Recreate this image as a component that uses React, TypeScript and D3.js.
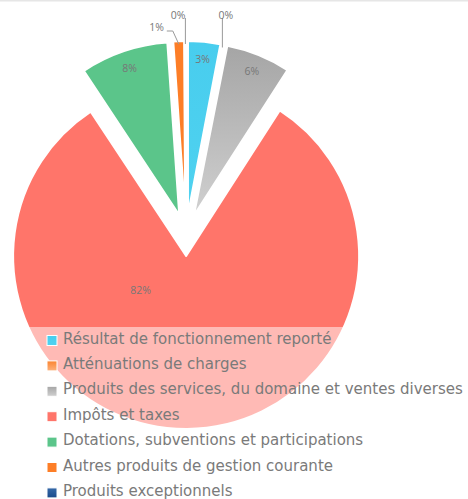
import React from "react";
import * as d3 from "d3";

const categories = [
  "Résultat de fonctionnement reporté",
  "Atténuations de charges",
  "Produits des services, du domaine et ventes diverses",
  "Impôts et taxes",
  "Dotations, subventions et participations",
  "Autres produits de gestion courante",
  "Produits exceptionnels",
];
const values = [3.0, 0.1, 6.0, 81.6, 8.2, 1.0, 0.1];
const colorTop = ["#48cdee", "#fb842f", "#a5a5a5", "#ff756a", "#5bc58a", "#fd7e27", "#3569a8"];
const colorBottom = ["#4fd2f0", "#fdb27c", "#d0d0d0", "#ff756a", "#5bc58a", "#fd7e27", "#1b4a8a"];

const W = 468;
const H = 499;
const CX = 186;
const CY = 235;
const R = 173;
const SLICE_OFFSET = 21;

export default function App() {
  const total = d3.sum(values);
  const pie = d3.pie<number>().value((d) => d).sort(null);
  const arcs = pie(values);
  const arc = d3.arc<d3.PieArcDatum<number>>().innerRadius(0).outerRadius(R);
  const pct = (v: number) => Math.round((v / total) * 100) + "%";
  const polar = (a: number, r: number): [number, number] => [Math.sin(a) * r, -Math.cos(a) * r];

  const legendTop = 327;
  const legendStep = 25.4;
  const legendFirst = 340.5;

  return (
    <svg width={W} height={H} style={{ position: "absolute", left: 0, top: 0 }} fontFamily="'Open Sans', sans-serif">
      <defs>
        {categories.map((_, i) => (
          <linearGradient key={i} id={"g" + i} x1="0" y1="0" x2="0" y2="1">
            <stop offset="0" stopColor={colorTop[i]} />
            <stop offset="1" stopColor={colorBottom[i]} />
          </linearGradient>
        ))}
      </defs>
      <rect x={0} y={0} width={W} height={1.5} fill="#e6e6e6" />
      <g transform={`translate(${CX},${CY})`}>
        {arcs.map((a, i) => {
          const mid = (a.startAngle + a.endAngle) / 2;
          const [ox, oy] = polar(mid, SLICE_OFFSET);
          return (
            <path
              key={i}
              d={arc(a) || ""}
              transform={`translate(${ox},${oy})`}
              fill={`url(#g${i})`}
              stroke="#ffffff"
              strokeWidth={2}
              strokeLinejoin="round"
            />
          );
        })}
        {arcs.map((a, i) => {
          const mid = (a.startAngle + a.endAngle) / 2;
          const [ox, oy] = polar(mid, SLICE_OFFSET);
          const share = a.value / total;
          const txt = pct(a.value);
          if (share > 0.5) {
            const [lx, ly] = polar(mid + (53.5 * Math.PI) / 180, 57);
            return (
              <text key={i} x={ox + lx} y={oy + ly} dy="0.35em" textAnchor="middle" fontSize={10.5} fill="#777">
                {txt}
              </text>
            );
          }
          if (share >= 0.02) {
            const [lx, ly] = polar(mid, R - 18);
            return (
              <text key={i} x={ox + lx} y={oy + ly} dy="0.35em" textAnchor="middle" fontSize={10.5} fill="#777">
                {txt}
              </text>
            );
          }
          const [qx, qy] = polar(mid, R - 3);
          const px = ox + qx;
          const py = oy + qy;
          if (share >= 0.005) {
            const elbowY = -CY + 31;
            const ex = px - 6;
            const hx = ex - 6;
            return (
              <g key={i}>
                <path d={`M${px},${py}L${ex},${elbowY}L${hx},${elbowY}`} fill="none" stroke="#999" strokeWidth={1} />
                <text x={hx - 3} y={elbowY} textAnchor="end" fontSize={10.5} fill="#777">
                  {txt}
                </text>
              </g>
            );
          }
          const topY = -CY + 18;
          const rightSide = mid < Math.PI;
          return (
            <g key={i}>
              <path d={`M${px},${py}L${px},${topY}`} fill="none" stroke="#999" strokeWidth={1} />
              <text
                x={rightSide ? px - 4 : px}
                y={topY + 1}
                textAnchor={rightSide ? "start" : "end"}
                fontSize={10.5}
                fill="#777"
              >
                {txt}
              </text>
            </g>
          );
        })}
      </g>
      <rect x={0} y={legendTop} width={W} height={H - legendTop} fill="#ffffff" fillOpacity={0.5} />
      {categories.map((c, i) => {
        const cy = legendFirst + i * legendStep;
        return (
          <g key={i}>
            <rect x={47} y={cy - 5} width={10} height={10} fill={`url(#g${i})`} stroke="#fff" strokeWidth={1} />
            <text x={63} y={cy + 3} fontSize={15} fill="#7a7a7a" fontFamily="'DejaVu Sans', sans-serif">
              {c}
            </text>
          </g>
        );
      })}
    </svg>
  );
}
